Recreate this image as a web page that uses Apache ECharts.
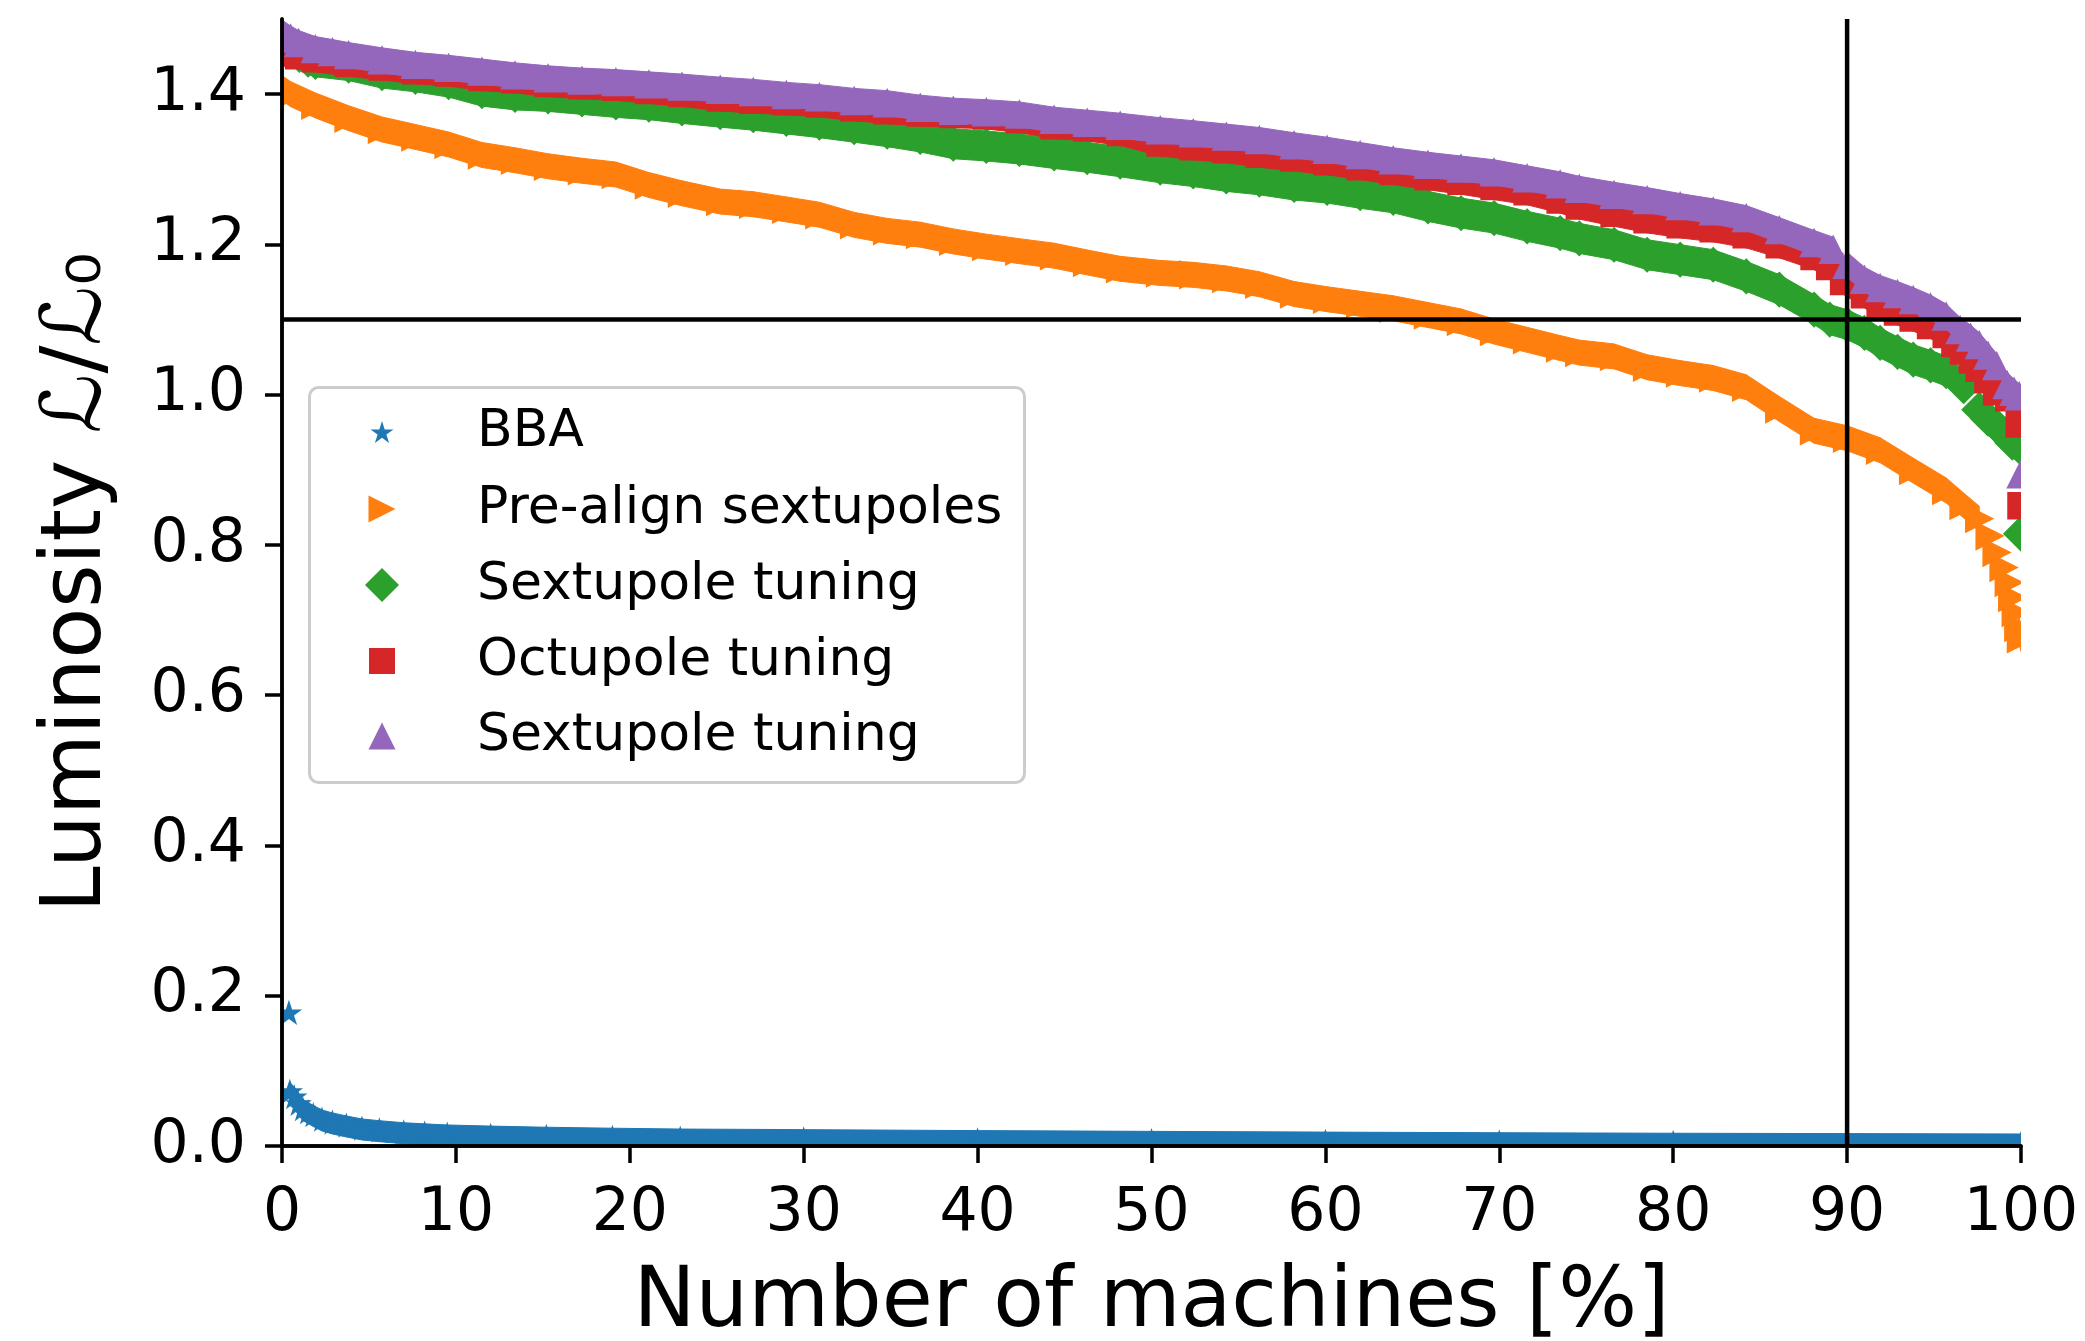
<!DOCTYPE html>
<html>
<head>
<meta charset="utf-8">
<script src="https://cdn.jsdelivr.net/npm/echarts@6/dist/echarts.min.js"></script>
<style>
  html, body { margin: 0; padding: 0; background: #ffffff; }
  #chart { width: 2085px; height: 1341px; }
</style>
</head>
<body>
<div id="chart"></div>
<script>
// Axis ticks
const xTicks = [0, 10, 20, 30, 40, 50, 60, 70, 80, 90, 100];
const yTicks = [0.0, 0.2, 0.4, 0.6, 0.8, 1.0, 1.2, 1.4];

// Legend labels, in drawing order
const seriesNames = ['BBA', 'Pre-align sextupoles', 'Sextupole tuning', 'Octupole tuning', 'Sextupole tuning'];

// Sorted luminosity per step: [machines %, L/L0]
const bba = [
  [0.4, 0.176], [0.45, 0.071], [0.7, 0.064], [0.95, 0.055], [1.2, 0.048], [1.5, 0.044],
  [1.8, 0.040], [2.3, 0.034], [2.9, 0.030], [3.7, 0.026], [4.6, 0.022], [5.6, 0.0197],
  [7.0, 0.017], [8.2, 0.0155], [9.5, 0.014], [12.0, 0.0125], [15.2, 0.011], [19.0, 0.0097],
  [22.9, 0.0086], [30.0, 0.0078], [40.0, 0.0065], [50.0, 0.0055], [60.0, 0.0045],
  [70.0, 0.0037], [80.0, 0.003], [90.0, 0.0025], [100.0, 0.002]
];

const preAlign = [
  [0, 1.408], [0.5, 1.400], [1.92, 1.385], [3.83, 1.368], [5.75, 1.353], [7.67, 1.343],
  [9.58, 1.333], [11.5, 1.319], [13.4, 1.312], [15.3, 1.304], [17.25, 1.298], [19.2, 1.293],
  [21.1, 1.279], [23.0, 1.268], [25.2, 1.257], [27.1, 1.2535], [29.0, 1.2466], [30.9, 1.2395],
  [32.9, 1.226], [34.8, 1.218], [36.7, 1.213], [38.6, 1.204], [40.5, 1.197], [42.4, 1.191],
  [44.4, 1.185], [46.3, 1.176], [48.2, 1.1675], [50.5, 1.162], [52.4, 1.1595], [54.3, 1.1547],
  [56.2, 1.147], [58.2, 1.134], [60.1, 1.127], [62.0, 1.121], [63.9, 1.115], [65.9, 1.106],
  [67.8, 1.0975], [69.7, 1.084], [71.6, 1.073], [73.5, 1.062], [74.6, 1.056], [76.6, 1.0509],
  [78.5, 1.0365], [80.4, 1.0287], [82.3, 1.0221], [84.2, 1.0099], [86.1, 0.981], [88.1, 0.952],
  [90.0, 0.942], [91.9, 0.926], [93.8, 0.899], [95.7, 0.8725], [96.7, 0.8525], [97.6, 0.835],
  [98.2, 0.812], [98.6, 0.79], [99.0, 0.77], [99.3, 0.75], [99.5, 0.73], [99.7, 0.71],
  [99.85, 0.69], [100.0, 0.675]
];

const sextupoleTuning = [
  [0, 1.462], [0.5, 1.458], [1.0, 1.452], [1.5, 1.446], [1.92, 1.443], [3.83, 1.438],
  [5.75, 1.428], [7.67, 1.423], [9.58, 1.416], [11.5, 1.404], [13.4, 1.399], [15.3, 1.397],
  [17.25, 1.393], [19.2, 1.389], [21.1, 1.386], [23.0, 1.381], [25.2, 1.376], [27.1, 1.372],
  [29.0, 1.367], [30.9, 1.362], [32.9, 1.356], [34.8, 1.350], [36.7, 1.343], [38.6, 1.334],
  [40.5, 1.331], [42.4, 1.327], [44.4, 1.321], [46.3, 1.316], [48.2, 1.310], [50.5, 1.302],
  [52.4, 1.297], [54.3, 1.2905], [56.2, 1.286], [58.2, 1.279], [60.1, 1.275], [62.0, 1.268],
  [63.9, 1.262], [65.9, 1.2506], [67.8, 1.2417], [69.7, 1.235], [71.6, 1.224], [73.5, 1.215],
  [74.6, 1.208], [76.6, 1.1996], [78.5, 1.1863], [80.4, 1.1797], [82.3, 1.173], [84.2, 1.1575],
  [86.1, 1.1398], [88.1, 1.1132], [89.0, 1.0999], [90.0, 1.0932], [91.0, 1.0822], [91.9, 1.0689],
  [92.9, 1.057], [93.8, 1.0467], [94.8, 1.039], [95.7, 1.0312], [96.7, 1.0112], [97.6, 0.980],
  [98.1, 0.968], [98.6, 0.958], [99.1, 0.947], [99.5, 0.936], [99.9, 0.931], [100.0, 0.815]
];

const octupoleTuning = [
  [0, 1.455], [0.96, 1.451], [1.92, 1.447], [3.83, 1.441], [5.75, 1.436], [7.67, 1.431],
  [9.58, 1.428], [11.5, 1.422], [13.4, 1.419], [15.3, 1.414], [17.25, 1.411], [19.2, 1.409],
  [21.1, 1.405], [23.0, 1.401], [25.2, 1.395], [27.1, 1.392], [29.0, 1.390], [30.9, 1.387],
  [32.9, 1.382], [34.8, 1.378], [36.7, 1.375], [38.6, 1.373], [40.5, 1.371], [42.4, 1.366],
  [44.4, 1.358], [46.3, 1.355], [48.2, 1.349], [50.5, 1.335], [52.4, 1.330], [54.3, 1.326],
  [56.2, 1.320], [58.2, 1.315], [60.1, 1.310], [62.0, 1.3035], [63.9, 1.297], [65.9, 1.290],
  [67.8, 1.284], [69.7, 1.277], [71.6, 1.270], [73.5, 1.259], [74.6, 1.251], [76.6, 1.2415],
  [78.5, 1.2327], [80.4, 1.226], [82.3, 1.2207], [84.2, 1.2127], [86.1, 1.1994], [88.1, 1.1839],
  [89.0, 1.1706], [89.8, 1.1507], [91.0, 1.133], [91.9, 1.117], [92.9, 1.110], [93.8, 1.102],
  [94.8, 1.092], [95.7, 1.080], [96.2, 1.068], [96.7, 1.058], [97.2, 1.046], [97.6, 1.035],
  [98.1, 1.020], [98.6, 1.004], [99.3, 0.996], [99.9, 0.961], [100.0, 0.852]
];

const sextupoleRetuning = [
  [0, 1.482], [0.5, 1.474], [0.96, 1.468], [1.92, 1.460], [2.9, 1.456], [3.83, 1.452],
  [5.75, 1.445], [7.67, 1.439], [9.58, 1.435], [11.5, 1.430], [13.4, 1.425], [15.3, 1.421],
  [17.25, 1.418], [19.2, 1.416], [21.1, 1.413], [23.0, 1.410], [25.2, 1.406], [27.1, 1.403],
  [29.0, 1.399], [30.9, 1.396], [32.9, 1.391], [34.8, 1.388], [36.7, 1.382], [38.6, 1.378],
  [40.5, 1.376], [42.4, 1.373], [44.4, 1.366], [46.3, 1.362], [48.2, 1.358], [50.5, 1.352],
  [52.4, 1.348], [54.3, 1.3435], [56.2, 1.339], [58.2, 1.332], [60.1, 1.326], [62.0, 1.319],
  [63.9, 1.312], [65.9, 1.306], [67.8, 1.301], [69.7, 1.296], [71.6, 1.288], [73.5, 1.280],
  [74.6, 1.274], [76.6, 1.266], [78.5, 1.259], [80.4, 1.251], [82.3, 1.244], [84.2, 1.235],
  [86.1, 1.219], [88.1, 1.202], [89.2, 1.193], [90.0, 1.173], [91.0, 1.153], [91.9, 1.142],
  [92.9, 1.134], [93.8, 1.126], [94.8, 1.116], [95.7, 1.104], [96.5, 1.086], [97.1, 1.076],
  [97.6, 1.066], [98.1, 1.052], [98.6, 1.038], [99.2, 1.013], [99.6, 1.004], [99.9, 0.998],
  [100.0, 0.894]
];

// Reference levels: 90 % of machines, L/L0 = 1.1
const refMachines = 90;
const refLuminosity = 1.1;

const FONT = 'DejaVu Sans';
const colors = ['#1f77b4', '#ff7f0e', '#2ca02c', '#d62728', '#9467bd'];

// Marker outlines, unit size
const STAR = [];
for (let k = 0; k < 10; k++) {
  const a = (-90 + 36 * k) * Math.PI / 180;
  const r = k % 2 === 0 ? 1 : 0.381966;
  STAR.push([r * Math.cos(a), r * Math.sin(a)]);
}
const SHAPES = {
  star: STAR,
  triRight: [[1, 0], [-1, 1], [-1, -1]],
  diamond: [[0, -1], [1, 0], [0, 1], [-1, 0]],
  square: [[-1, -1], [1, -1], [1, 1], [-1, 1]],
  triUp: [[0, -1], [1, 1], [-1, 1]]
};
function shapePoints(kind, cx, cy, size) {
  const h = size / 2;
  return SHAPES[kind].map(p => [cx + p[0] * h, cy + p[1] * h]);
}
function iconPath(kind) {
  const pts = SHAPES[kind].map(p => p[0].toFixed(4) + ',' + p[1].toFixed(4));
  return 'path://M' + pts.join('L') + 'Z';
}

// Dense marker run: each sample drawn as its marker, neighbours joined by a band
function markerSeries(name, data, color, kind, size, half) {
  return {
    type: 'custom',
    name: name,
    data: data,
    clip: true,
    silent: true,
    encode: { x: 0, y: 1 },
    renderItem: function (params, api) {
      const i = params.dataIndex;
      const p = api.coord([api.value(0), api.value(1)]);
      const children = [];
      if (i + 1 < data.length) {
        const q = api.coord(data[i + 1]);
        const dx = q[0] - p[0];
        const dy = Math.abs(q[1] - p[1]);
        if (dy < Math.max(dx, half)) {
          children.push({
            type: 'polygon',
            shape: { points: [[p[0], p[1] - half], [q[0], q[1] - half], [q[0], q[1] + half], [p[0], p[1] + half]] },
            style: { fill: color, stroke: color, lineWidth: 1 }
          });
        }
      }
      children.push({
        type: 'polygon',
        shape: { points: shapePoints(kind, p[0], p[1], size) },
        style: { fill: color, stroke: color, lineWidth: 1.5 }
      });
      return { type: 'group', children: children };
    }
  };
}

const markerDefs = [
  { kind: 'star', size: 23, half: 10.5 },
  { kind: 'triRight', size: 27, half: 12.5 },
  { kind: 'diamond', size: 34, half: 15 },
  { kind: 'square', size: 26, half: 13 },
  { kind: 'triUp', size: 27, half: 12.5 }
];
const seriesData = [bba, preAlign, sextupoleTuning, octupoleTuning, sextupoleRetuning];

const series = seriesData.map((d, k) =>
  markerSeries(seriesNames[k], d, colors[k], markerDefs[k].kind, markerDefs[k].size, markerDefs[k].half));

series.push({
  type: 'line', name: 'ref-v', silent: true, symbol: 'none', z: 6, animation: false,
  data: [[refMachines, 0], [refMachines, 1.5]],
  lineStyle: { color: '#000', width: 4.5 }
});
series.push({
  type: 'line', name: 'ref-h', silent: true, symbol: 'none', z: 6, animation: false,
  data: [[0, refLuminosity], [100, refLuminosity]],
  lineStyle: { color: '#000', width: 4.5 }
});

// Legend rows (one legend component per row so every marker keeps its own size)
const legendRowY = [432, 509, 585, 661, 736];
const legendIconX = 382;
const legendTextX = 477;
const legends = seriesNames.map((nm, k) => {
  const s = markerDefs[k].size;
  return {
    data: [{ name: nm, icon: iconPath(markerDefs[k].kind), itemStyle: { color: colors[k] } }],
    left: legendIconX - s / 2,
    top: legendRowY[k] - 30,
    itemWidth: s,
    itemHeight: s,
    padding: 0,
    selectedMode: false,
    z: 5,
    textStyle: {
      fontFamily: FONT, fontSize: 52, color: '#000', lineHeight: 60,
      padding: [0, 0, 0, legendTextX - (legendIconX - s / 2 + s + 5)]
    }
  };
});

const axisLine = { show: true, lineStyle: { color: '#000', width: 3.5 } };
const axisTick = { show: true, length: 17, lineStyle: { color: '#000', width: 3.5 } };

const option = {
  animation: false,
  backgroundColor: '#ffffff',
  grid: { left: 282, top: 19, right: 64, bottom: 195, outerBoundsMode: 'none' },
  legend: legends,
  graphic: [{
    type: 'rect', left: 308, top: 386, z: 3, silent: true,
    shape: { width: 715, height: 395, r: 9 },
    style: { fill: 'rgba(255,255,255,0.8)', stroke: '#cccccc', lineWidth: 3 }
  }],
  xAxis: [{
    type: 'value', min: 0, max: 100, interval: 10, z: 10,
    axisLine: axisLine, axisTick: axisTick, splitLine: { show: false },
    axisLabel: {
      fontFamily: FONT, fontSize: 60, color: '#000', margin: 38,
      customValues: xTicks, formatter: v => String(v)
    },
    name: 'Number of machines [%]', nameLocation: 'middle', nameGap: 117,
    nameTextStyle: { fontFamily: FONT, fontSize: 83, color: '#000' }
  }, {
    type: 'value', position: 'top', min: 0, max: 100, z: 10,
    axisLine: axisLine, axisTick: { show: false }, axisLabel: { show: false }, splitLine: { show: false }
  }],
  yAxis: [{
    type: 'value', min: 0, max: 1.5, interval: 0.2, z: 10,
    axisLine: axisLine,
    axisTick: Object.assign({ customValues: yTicks }, axisTick),
    splitLine: { show: false },
    axisLabel: {
      fontFamily: FONT, fontSize: 60, color: '#000', margin: 36, customValues: yTicks,
      formatter: v => (v > 1.45 ? '' : v.toFixed(1))
    },
    name: 'Luminosity ℒ/ℒ₀', nameLocation: 'middle', nameGap: 162, nameRotate: 90,
    nameTextStyle: { fontFamily: FONT, fontSize: 83, color: '#000' }
  }, {
    type: 'value', position: 'right', min: 0, max: 1.5, z: 10,
    axisLine: axisLine, axisTick: { show: false }, axisLabel: { show: false }, splitLine: { show: false }
  }],
  series: series
};

const chart = echarts.init(document.getElementById('chart'), null, { renderer: 'canvas' });
chart.setOption(option);
</script>
</body>
</html>
